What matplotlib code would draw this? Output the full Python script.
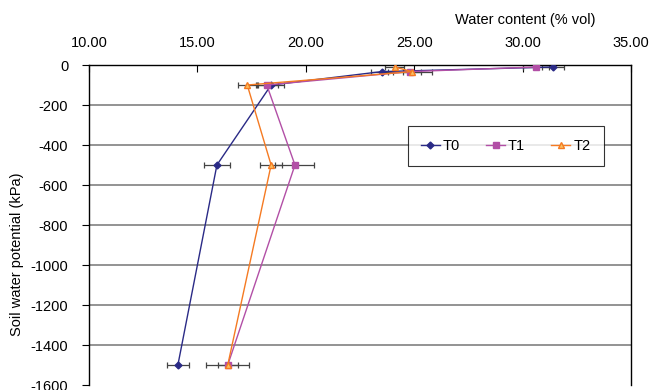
import matplotlib.pyplot as plt

plt.rcParams["font.family"] = ["Liberation Sans", "DejaVu Sans"]
plt.rcParams["axes.unicode_minus"] = False

# soil water potential (kPa)
potential_t0 = [-10, -33, -100, -500, -1500]
potential_t1 = [-10, -33, -100, -500, -1500]
potential_t2 = [-10, -33, -100, -500, -1500]

# water content (% vol)
water_t0 = [31.4, 23.5, 18.4, 15.9, 14.1]
water_t1 = [30.6, 24.8, 18.2, 19.5, 16.4]
water_t2 = [24.1, 24.9, 17.3, 18.4, 16.4]

# standard errors
err_t0 = [0.5, 0.5, 0.6, 0.6, 0.5]
err_t1 = [0.6, 1.0, 0.5, 0.9, 1.0]
err_t2 = [0.45, 0.4, 0.45, 0.5, 0.45]

x_ticks = [10, 15, 20, 25, 30, 35]
y_ticks = list(range(0, -1601, -200))

series = [
    ("T0", water_t0, potential_t0, err_t0, "#2a2a86", "D", 3.5, "#2a2a86"),
    ("T1", water_t1, potential_t1, err_t1, "#b24fa6", "s", 4.5, "#b24fa6"),
    ("T2", water_t2, potential_t2, err_t2, "#f57a22", "^", 5, "#f9c060"),
]

fig = plt.figure(figsize=(6.54, 3.9), dpi=100)
ax = fig.add_axes([0.1361, 0.0128, 0.8287, 0.8205])

for y in y_ticks[1:-1]:
    ax.axhline(y, color="#8a8a8a", lw=1.3, zorder=0)

for name, x, y, err, color, marker, ms, face in series:
    ax.errorbar(x, y, xerr=err, fmt="none", ecolor="#444444", elinewidth=0.9,
                capsize=2.5, capthick=0.9, zorder=2)
    ax.plot(x, y, color=color, lw=1.0, marker=marker, ms=ms,
            mfc=face, mec=color, label=name, zorder=3)

ax.set_xlim(10, 35)
ax.set_ylim(-1600, 0)
ax.set_xticks(x_ticks)
ax.set_xticklabels([f"{v:.2f}" for v in x_ticks])
ax.set_yticks(y_ticks)
ax.xaxis.tick_top()
ax.tick_params(axis="both", labelsize=10.5, color="black")
ax.tick_params(axis="y", length=5, pad=10)
ax.tick_params(axis="x", direction="in", length=5, pad=11)
for side in ["top", "left", "right"]:
    ax.spines[side].set_color("black")
    ax.spines[side].set_linewidth(1.0)
ax.spines["bottom"].set_visible(False)

ax.set_ylabel("Soil water potential (kPa)", fontsize=10.5)
ax.yaxis.set_label_coords(-0.12, 0.41)
fig.text(0.803, 0.948, "Water content (% vol)", fontsize=10.5, ha="center", va="center")

leg = ax.legend(loc="upper left", bbox_to_anchor=(0.588, 0.809), ncol=3, frameon=True,
                fancybox=False, edgecolor="black", fontsize=10.5, handlelength=1.3,
                columnspacing=1.8, handletextpad=0.2, borderpad=0.9, borderaxespad=0)
leg.get_frame().set_linewidth(0.8)

fig.savefig("out.png", dpi=100)
